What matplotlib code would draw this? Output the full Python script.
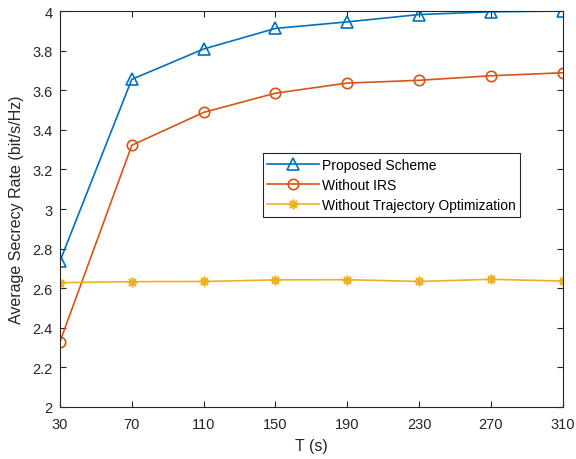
import matplotlib
matplotlib.use('Agg')
import matplotlib.pyplot as plt

plt.rcParams['font.family'] = ['Liberation Sans', 'DejaVu Sans']

T = [30, 70, 110, 150, 190, 230, 270, 310]
proposed = [2.737, 3.655, 3.808, 3.912, 3.945, 3.982, 3.996, 4.0]
without_irs = [2.33, 3.322, 3.488, 3.585, 3.636, 3.650, 3.673, 3.688]
without_traj = [2.628, 2.633, 2.634, 2.642, 2.643, 2.634, 2.645, 2.636]

fig = plt.figure(figsize=(5.76, 4.6), dpi=100)
ax = fig.add_axes([60 / 576, 52 / 460, 502.7 / 576, 396 / 460])

ax.plot(T, proposed, color='#0072BD', marker='^', markersize=8.5, markerfacecolor='none',
        markeredgewidth=1.2, linewidth=1.2, label='Proposed Scheme')
ax.plot(T, without_irs, color='#D95319', marker='o', markersize=7.5, markerfacecolor='none',
        markeredgewidth=1.2, linewidth=1.2, label='Without IRS')
ax.plot(T, without_traj, color='#EDB120', marker=(8, 2, 0), markersize=7,
        markeredgewidth=1.2, linewidth=1.2, label='Without Trajectory Optimization')

ax.set_xlim(30, 310)
ax.set_ylim(2, 4)
ax.set_xticks(T)
ax.set_yticks([2 + 0.2 * i for i in range(11)])
ax.set_yticklabels(['2', '2.2', '2.4', '2.6', '2.8', '3', '3.2', '3.4', '3.6', '3.8', '4'])
ax.tick_params(direction='in', top=True, right=True, labelsize=10.5, length=4, color='#262626',
               labelcolor='#262626')
ax.tick_params(axis='x', pad=7)
ax.tick_params(axis='y', pad=5.5)
for s in ax.spines.values():
    s.set_color('#262626')
    s.set_linewidth(0.8)

ax.set_xlabel('T (s)', fontsize=11.5, labelpad=5, color='#262626')
ax.set_ylabel('Average Secrecy Rate (bit/s/Hz)', fontsize=11.5, labelpad=6, color='#262626')

leg = ax.legend(loc='upper left', bbox_to_anchor=(0.403, 0.641), fontsize=10, fancybox=False,
                edgecolor='#262626', framealpha=1, borderpad=0.35, labelspacing=0.42,
                handlelength=3.7, handletextpad=0.2, borderaxespad=0)
leg.get_frame().set_linewidth(0.8)

fig.savefig('out.png', dpi=100)
